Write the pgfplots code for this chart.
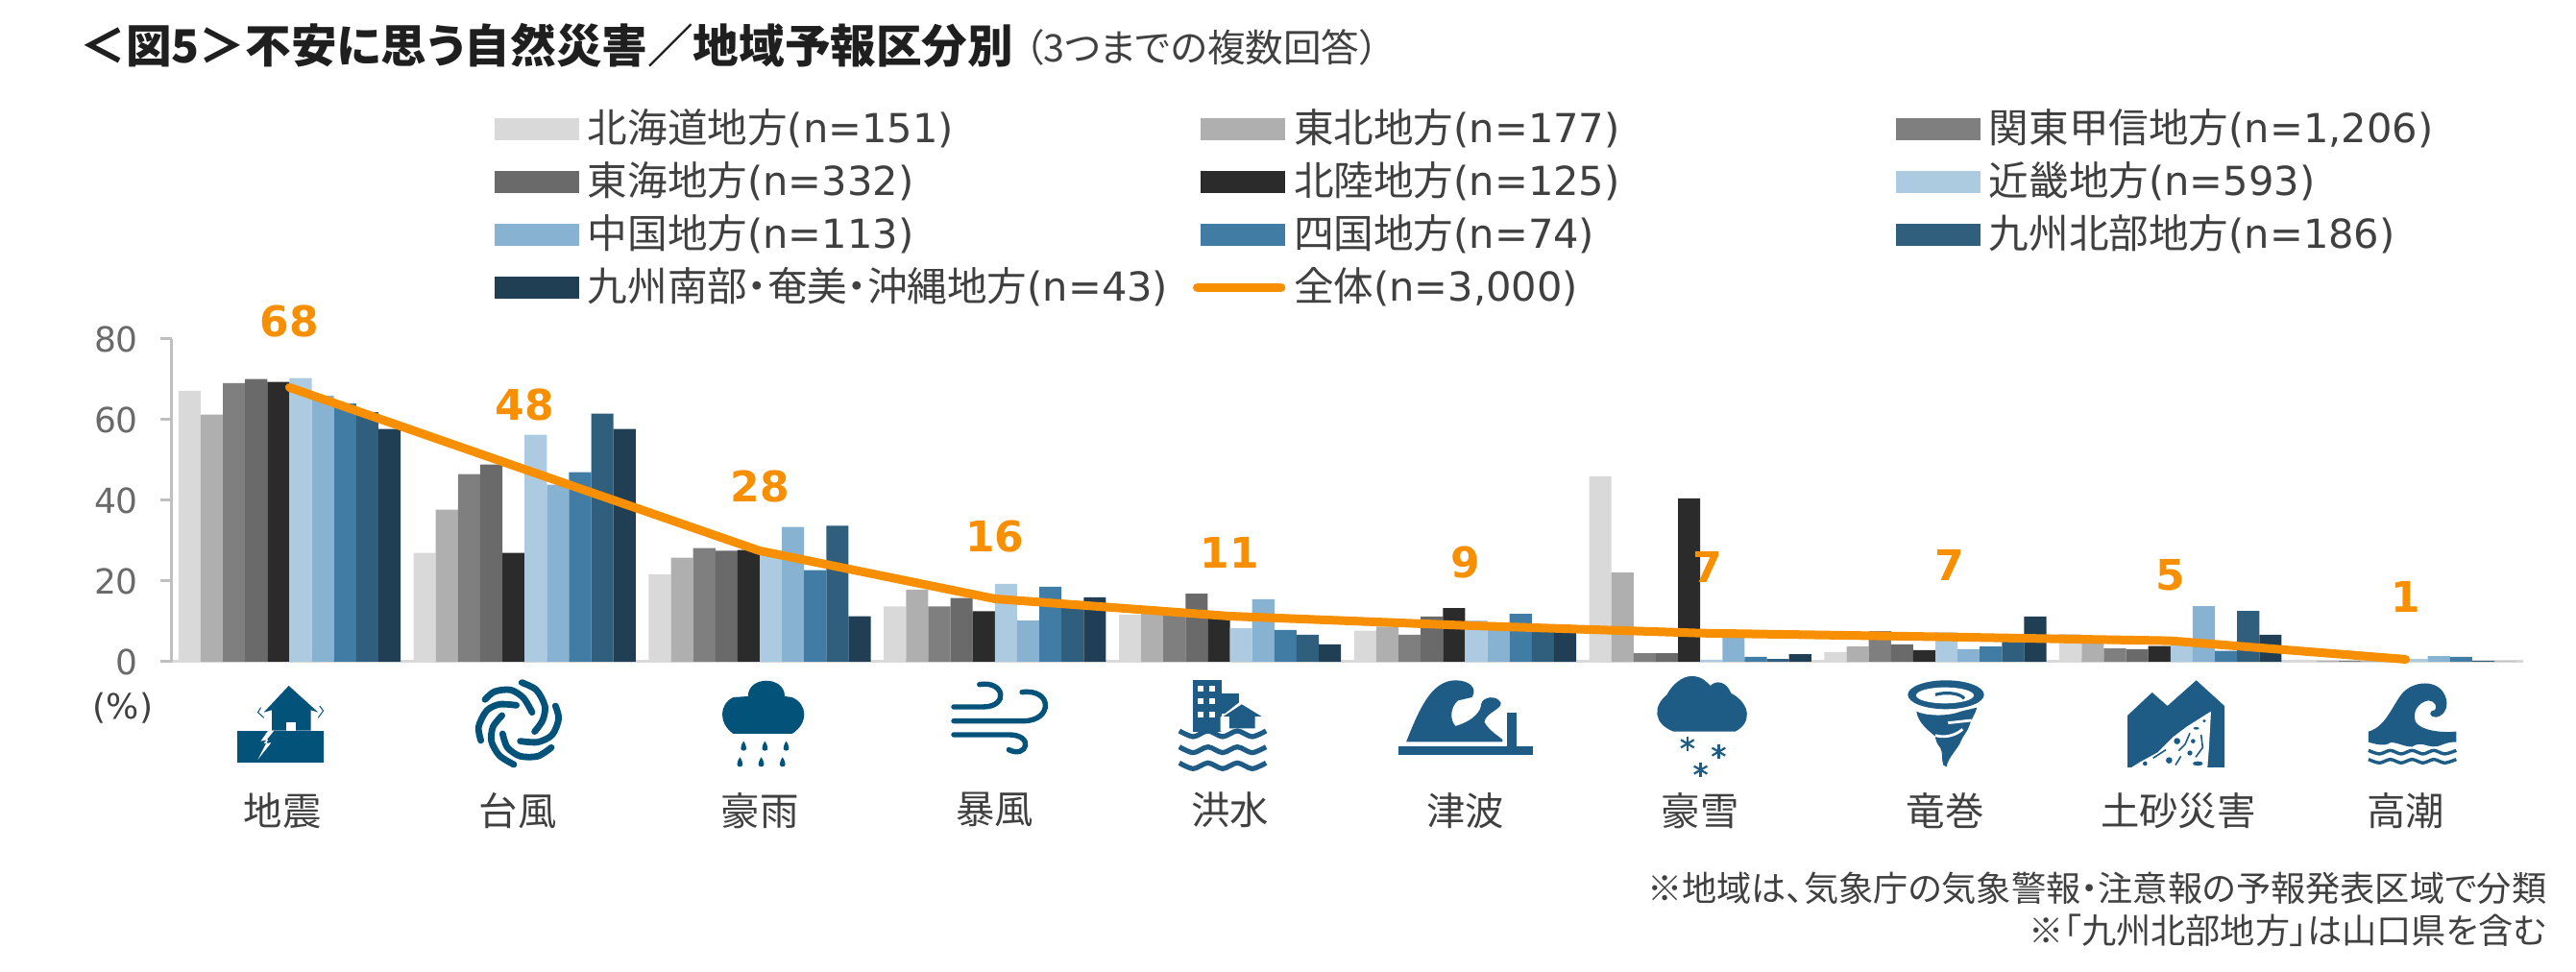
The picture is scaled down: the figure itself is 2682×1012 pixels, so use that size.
\documentclass[border=0pt]{standalone}
\usepackage{fontspec}
\usepackage{pgfplots}
\usepackage{pgfplotstable}
\pgfplotsset{compat=1.18}
\setmainfont{DejaVu Sans}
\newfontfamily\cjk[RawFeature=+palt]{Noto Sans CJK JP}

\definecolor{c1}{HTML}{D9D9D9}
\definecolor{c2}{HTML}{AFAFAF}
\definecolor{c3}{HTML}{7F7F7F}
\definecolor{c4}{HTML}{6A6A6A}
\definecolor{c5}{HTML}{2B2B2B}
\definecolor{c6}{HTML}{ADCBE0}
\definecolor{c7}{HTML}{87B2D1}
\definecolor{c8}{HTML}{417CA5}
\definecolor{c9}{HTML}{305E7D}
\definecolor{c10}{HTML}{203F55}
\definecolor{orangeline}{HTML}{F78F00}
\definecolor{txt}{HTML}{404040}
\definecolor{axisgrey}{HTML}{BFBFBF}
\definecolor{iconA}{HTML}{03527A}
\definecolor{iconB}{HTML}{1F5C85}

\pgfplotstableread{
x hokkaido tohoku kanto tokai hokuriku kinki chugoku shikoku kyushun kyushus all
0 67.2 61.3 69.1 70.1 69.4 70.3 66.0 64.0 61.9 57.7 68.0
1 27.0 37.7 46.5 48.9 27.0 56.3 43.9 47.0 61.5 57.7 47.7
2 21.7 25.8 28.2 27.5 27.7 27.0 33.4 22.7 33.7 11.3 27.5
3 13.7 17.9 13.7 15.8 12.5 19.3 10.2 18.6 15.0 16.0 15.6
4 11.7 12.0 12.0 16.9 11.5 8.3 15.5 7.9 6.7 4.3 11.3
5 7.7 8.7 6.7 11.2 13.3 10.2 9.0 11.9 8.5 9.0 9.0
6 46.0 22.1 2.1 2.1 40.5 0.5 6.5 1.2 0.7 1.9 7.1
7 2.4 3.8 7.6 4.3 2.9 7.3 3.1 3.8 5.0 11.2 6.2
8 6.9 5.0 3.3 3.1 3.9 5.5 13.8 2.7 12.6 6.7 5.2
9 0.5 0.2 0.2 0.1 0.0 0.7 1.4 1.2 0.2 0.0 0.6
}\regions

% label positions, above the line
\pgfplotstableread{
x y lab
0 84.3 68
1 63.8 48
2 43.5 28
3 31.0 16
4 27.0 11
5 24.7 9
6.03 23.5 7
7.06 24.0 7
8 21.5 5
9 16.0 1
}\labels

\newcommand{\colA}[1]{\makebox[159.3pt][l]{\hspace*{2.2pt}#1}}
\newcommand{\colB}[1]{\makebox[156.45pt][l]{\hspace*{2.2pt}#1}}
\newcommand{\colC}[1]{\hspace*{2.2pt}#1}

\begin{document}
\begin{tikzpicture}

\begin{axis}[
    at={(44.75pt,-172.25pt)}, anchor=south west,
    scale only axis, width=612pt, height=84pt,
    ybar=0pt, bar width=5.78pt,
    xmin=-0.5, xmax=9.5, ymin=0, ymax=80,
    ytick={0,20,...,80},
    xtick={0,...,9},
    xticklabels={{\cjk 地震\hspace*{3.5pt}},{\cjk 台風\hspace*{3.5pt}},{\cjk 豪雨},{\cjk 暴風},{\cjk 洪水},{\cjk 津波},{\cjk 豪雪},{\hspace*{5pt}\cjk 竜巻},{\hspace*{4pt}\cjk 土砂災害},{\cjk 高潮}},
    axis x line*=bottom, axis y line*=left,
    axis line style={draw=none},
    x axis line style={draw=c1, line width=0.75pt, -},
    y axis line style={draw=axisgrey, line width=0.75pt, -},
    x tick style={draw=none},
    y tick style={draw=axisgrey, line width=0.75pt},
    major tick length=3pt,
    tick align=outside,
    /pgf/number format/assume math mode=true,
    yticklabel style={font=\fontsize{9}{10}\selectfont, text=c4, xshift=-2.25pt},
    xticklabel style={font=\fontsize{10.1}{12}\selectfont, text=txt, yshift=-27.5pt},
    clip=false,
    legend columns=3,
    legend style={
        at={(0.137,1.735)}, anchor=north west, draw=none, fill=none,
        font=\fontsize{10.4}{12}\selectfont, text=txt,
        inner sep=0pt, row sep=0pt,
        nodes={inner sep=0pt, minimum height=13.75pt, anchor=west},
        /tikz/every even column/.append style={column sep=2.5pt},
    },
    legend image code/.code={\fill[#1] (0pt,-2.9pt) rectangle (22pt,2.9pt);},
    legend cell align=left,
]
\addplot[fill=c1, draw=none] table[x=x,y=hokkaido] {\regions};
\addplot[fill=c2, draw=none] table[x=x,y=tohoku] {\regions};
\addplot[fill=c3, draw=none] table[x=x,y=kanto] {\regions};
\addplot[fill=c4, draw=none] table[x=x,y=tokai] {\regions};
\addplot[fill=c5, draw=none] table[x=x,y=hokuriku] {\regions};
\addplot[fill=c6, draw=none] table[x=x,y=kinki] {\regions};
\addplot[fill=c7, draw=none] table[x=x,y=chugoku] {\regions};
\addplot[fill=c8, draw=none] table[x=x,y=shikoku] {\regions};
\addplot[fill=c9, draw=none] table[x=x,y=kyushun] {\regions};
\addplot[fill=c10, draw=none] table[x=x,y=kyushus] {\regions};
\addplot[sharp plot, no marks, draw=orangeline, line width=2.25pt, line cap=round, line join=round,
    legend image code/.code={
        \path[draw=none, fill=none, line width=0pt] (0pt,-2.9pt) rectangle (22pt,2.9pt);
        \draw[overlay, orangeline, line width=2.4pt, line cap=round] (-0.9pt,0pt) -- (20.8pt,0pt);}]
    table[x=x,y=all] {\regions};
\addplot[sharp plot, no marks, draw=none, forget plot, bar shift=0pt,
    nodes near coords, point meta=explicit symbolic,
    every node near coord/.append style={anchor=center, inner sep=0pt,
        font=\fontsize{11}{13}\selectfont\bfseries, text=orangeline}]
    table[x=x,y=y,meta=lab] {\labels};

\addlegendentry{\colA{{\cjk 北海道地方}(n=151)}}
\addlegendentry{\colB{{\cjk 東北地方}(n=177)}}
\addlegendentry{\colC{{\cjk 関東甲信地方}(n=1,206)}}
\addlegendentry{\colA{{\cjk 東海地方}(n=332)}}
\addlegendentry{\colB{{\cjk 北陸地方}(n=125)}}
\addlegendentry{\colC{{\cjk 近畿地方}(n=593)}}
\addlegendentry{\colA{{\cjk 中国地方}(n=113)}}
\addlegendentry{\colB{{\cjk 四国地方}(n=74)}}
\addlegendentry{\colC{{\cjk 九州北部地方}(n=186)}}
\addlegendentry{\colA{{\cjk 九州南部・奄美・沖縄地方}(n=43)}}
\addlegendentry{\colB{{\cjk 全体}(n=3,000)}}
\end{axis}

\begin{scope}[x=0.25pt,y=-0.25pt]
\path[use as bounding box] (0,0) rectangle (2682,1012);

% titles
\node[anchor=west, inner sep=0pt, text=black!88, font=\fontsize{11.9}{14}\selectfont\cjk\bfseries] at (83,47)
    {＜図5＞不安に思う自然災害／地域予報区分別};
\node[anchor=west, inner sep=0pt, text=txt, font=\fontsize{9.9}{12}\selectfont\cjk] at (1066,49)
    {（3つまでの複数回答）};
\node[anchor=center, inner sep=0pt, text=txt, font=\fontsize{9}{12}\selectfont] at (128,737) {(\%)};
\node[anchor=east, inner sep=0pt, text=txt, font=\fontsize{9.05}{12}\selectfont\cjk] at (2652,925)
    {※地域は、気象庁の気象警報・注意報の予報発表区域で分類};
\node[anchor=east, inner sep=0pt, text=txt, font=\fontsize{9.05}{12}\selectfont\cjk] at (2652,969)
    {※「九州北部地方」は山口県を含む};

% icons, left five
\begin{scope}[shift={(140,690)}, xscale=0.765, yscale=0.3333]
  % earthquake
  \fill[iconA] (140,212) rectangle (257,312);
  \fill[iconA] (210,72) -- (250,155) -- (240,148) -- (240,212) -- (187,212) -- (187,148) -- (176,155) -- cycle;
  \fill[white] (207,187) rectangle (220,212);
  \fill[white] (182,212) -- (172,245) -- (182,240) -- (168,302) -- (186,250) -- (176,252) -- (190,212) -- cycle;
  \draw[iconA, line width=0.25pt] (172,140) -- (168,155) -- (176,172);
  \draw[iconA, line width=0.25pt] (252,135) -- (257,150) -- (250,172);
  % rain
  \fill[iconA] (815,222) .. controls (795,190) and (795,130) .. (815,108) -- (835,105)
     .. controls (835,40) and (885,40) .. (885,105) -- (895,108)
     .. controls (917,130) and (917,190) .. (895,222) -- cycle;
  \foreach \dx/\dy in {829/245,858/245,887/245,824/295,853/295,882/295}
    \fill[iconA] (\dx,\dy) .. controls (\dx+5,\dy+18) and (\dx+5,\dy+30) .. (\dx,\dy+30)
       .. controls (\dx-5,\dy+30) and (\dx-5,\dy+18) .. (\dx,\dy) -- cycle;
  % wind
  \draw[iconA, line width=1.35pt, line cap=round] (1115,138) -- (1155,138) .. controls (1190,138) and (1185,55) .. (1150,68);
  \draw[iconA, line width=1.35pt, line cap=round] (1115,182) -- (1210,182) .. controls (1250,182) and (1250,80) .. (1208,92);
  \draw[iconA, line width=1.35pt, line cap=round] (1115,225) -- (1190,225) .. controls (1225,225) and (1215,300) .. (1190,272);
  % flood
  \fill[iconB] (1440,55) rectangle (1480,215);
  \fill[iconB] (1480,95) rectangle (1503,160);
  \foreach \wy in {72,112,152} {
    \fill[white] (1447,\wy) rectangle (1455,\wy+18);
    \fill[white] (1463,\wy) rectangle (1471,\wy+18);
  }
  \fill[white] (1507,118) -- (1478,170) -- (1478,215) -- (1540,215) -- (1540,170) -- cycle;
  \fill[iconB] (1507,130) -- (1482,168) -- (1490,168) -- (1490,205) -- (1525,205) -- (1525,168) -- (1534,168) -- cycle;
  \foreach \wy in {225,275,325}
    \draw[iconB, line width=1.3pt] plot[smooth] coordinates {(1422,\wy-12) (1441,\wy+6) (1461,\wy-12) (1481,\wy+6) (1501,\wy-12) (1521,\wy+6) (1540,\wy-12)};
\end{scope}

% typhoon
\begin{scope}[shift={(470,700)}, scale=0.3333]
  \foreach \pts in {
    {(105,85) (135,60) (185,55) (225,80) (252,125)},
    {(220,32) (265,55) (292,105) (285,150) (260,185)},
    {(325,105) (335,145) (315,195) (270,218) (215,215)},
    {(312,235) (270,262) (215,262) (175,235) (160,192)},
    {(195,288) (150,260) (125,215) (130,170) (158,135)},
    {(92,213) (85,170) (110,120) (150,100) (203,103)}}
    \draw[iconA, line width=1.7pt, line cap=round] plot[smooth] coordinates \pts;
\end{scope}

% icons, right five
\begin{scope}[shift={(1340,690)}, xscale=0.856, yscale=0.3333]
  % tsunami
  \fill[iconB] (136,260) rectangle (299,288);
  \fill[iconB] (268,157) rectangle (279,262);
  \fill[iconB] (145,247) .. controls (160,150) and (175,55) .. (205,55)
     .. controls (222,55) and (232,80) .. (225,108) -- (208,118)
     .. controls (198,140) and (198,180) .. (205,198)
     .. controls (228,180) and (236,150) .. (236,130)
     .. controls (238,105) and (255,100) .. (260,125)
     .. controls (262,145) and (242,155) .. (240,185)
     .. controls (245,210) and (255,225) .. (262,240) -- (262,247) -- cycle;
  % snow
  \fill[iconB] (470,215) .. controls (445,190) and (445,135) .. (462,100)
     .. controls (468,70) and (480,42) .. (492,42)
     .. controls (505,42) and (510,60) .. (515,72)
     .. controls (522,52) and (535,60) .. (540,95)
     .. controls (565,130) and (565,190) .. (545,215) -- cycle;
  \foreach \sx/\sy in {487/253,525/278,503/335} {
    \draw[iconB, line width=0.55pt] (\sx,\sy-22) -- (\sx,\sy+22);
    \draw[iconB, line width=0.55pt] (\sx-8,\sy-12) -- (\sx+8,\sy+12);
    \draw[iconB, line width=0.55pt] (\sx-8,\sy+12) -- (\sx+8,\sy-12);
  }
\end{scope}

% tornado
\begin{scope}[shift={(1960,700)}, scale=0.3333]
  \fill[iconB] (198,70) ellipse[x radius=119, y radius=45];
  \fill[white] (195,72) ellipse[x radius=90, y radius=25];
  \draw[iconB, line width=0.8pt] (165,70) .. controls (190,62) and (240,62) .. (255,82);
  \fill[iconB] (106,122) .. controls (130,135) and (200,140) .. (245,122) -- (295,110)
     .. controls (290,130) and (275,150) .. (270,170)
     .. controls (265,185) and (250,200) .. (245,215)
     .. controls (235,240) and (205,265) .. (200,295) -- (190,290)
     .. controls (183,275) and (190,250) .. (180,235)
     .. controls (170,225) and (165,210) .. (165,200)
     .. controls (140,180) and (110,155) .. (106,122) -- cycle;
  \draw[white, line width=0.7pt] (205,158) -- (278,150);
  \draw[white, line width=0.7pt] (165,197) .. controls (190,205) and (225,200) .. (250,178);
\end{scope}

% landslide and storm surge
\begin{scope}[shift={(2200,700)}, scale=0.3333]
  \fill[iconB] (45,135) -- (122,63) -- (170,105) -- (260,25) -- (348,105) -- (348,297) -- (45,297) -- cycle;
  \fill[white] (306,122) -- (230,170) -- (190,200) -- (140,250) -- (85,280) -- (58,297) -- (295,297) -- (300,230) -- cycle;
  \fill[iconB] (200,215) circle (10);
  \fill[iconB] (250,215) circle (7);
  \fill[iconB] (240,252) circle (8);
  \fill[iconB] (175,275) circle (10);
  \fill[iconB] (100,285) circle (7);
  \fill[iconB] (285,152) circle (5);
  \fill[iconB] (265,285) ellipse[x radius=16, y radius=7];
  \fill[iconB] (260,175) ellipse[x radius=9, y radius=4];
  \draw[iconB, line width=0.4pt] (240,190) -- (225,225) -- (205,245);
  \draw[iconB, line width=0.4pt] (212,262) -- (195,290);
  \draw[iconB, line width=0.4pt] (165,242) -- (125,268);
  \draw[iconB, line width=0.4pt] (275,195) -- (280,235) -- (258,265);
  \fill[iconB] (798,185) .. controls (850,170) and (870,110) .. (900,70)
     .. controls (930,30) and (1000,20) .. (1030,60)
     .. controls (1055,95) and (1040,135) .. (1010,140)
     .. controls (985,140) and (985,120) .. (1005,118)
     .. controls (1015,110) and (1005,88) .. (985,88)
     .. controls (950,95) and (935,125) .. (945,155)
     .. controls (960,180) and (1020,190) .. (1072,185)
     -- (1072,218) .. controls (1040,215) and (1020,235) .. (1000,232)
     .. controls (980,232) and (960,215) .. (935,232)
     .. controls (915,235) and (880,215) .. (865,220)
     .. controls (850,232) and (820,225) .. (798,218) -- cycle;
  \foreach \wy in {250,278}
    \draw[iconB, line width=0.85pt] plot[smooth] coordinates {(798,\wy-6) (832,\wy+5) (866,\wy-6) (900,\wy+5) (934,\wy-6) (968,\wy+5) (1002,\wy-6) (1036,\wy+5) (1072,\wy-6)};
\end{scope}
\end{scope}
\end{tikzpicture}
\end{document}
